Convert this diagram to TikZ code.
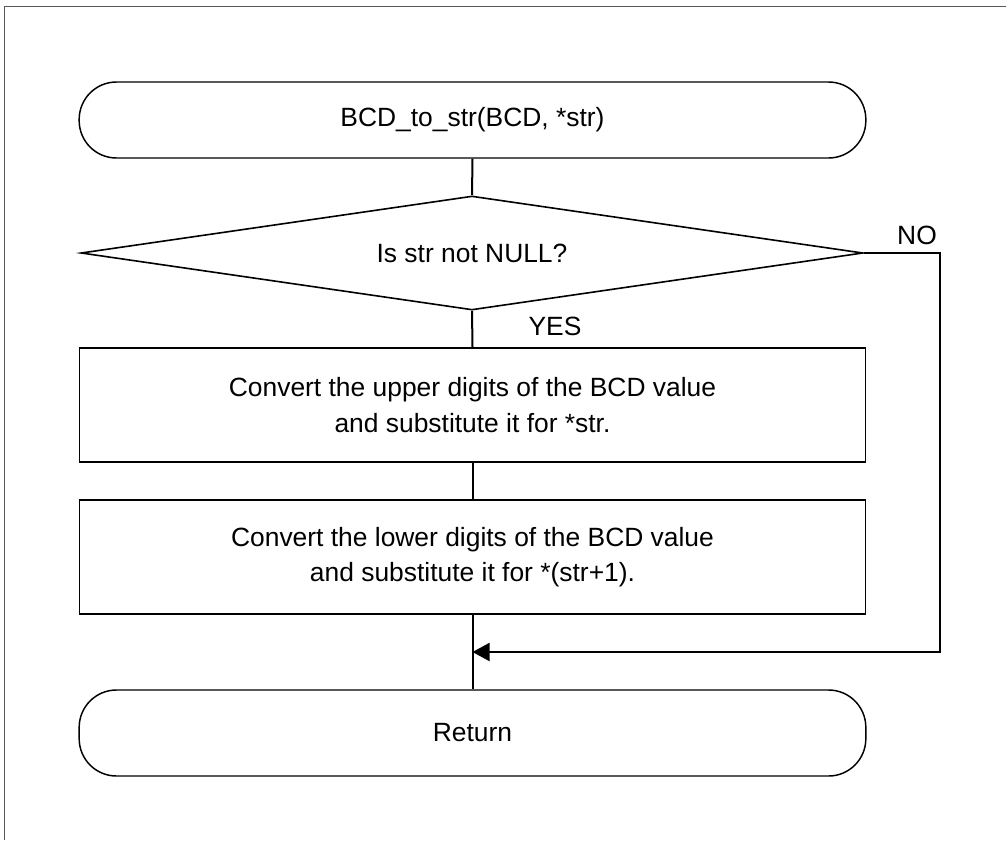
\documentclass[tikz,border=0pt]{standalone}
\usepackage{fontspec}
\setmainfont{Liberation Sans}
\usetikzlibrary{shapes.geometric,arrows.meta}
\begin{document}
\begin{tikzpicture}[x=0.75pt,y=-0.75pt,
  every node/.style={font=\fontsize{19.8}{26.5}\selectfont, inner sep=0pt, align=center},
  term/.style={draw, line width=1.1pt, rounded corners=28pt, minimum width=590pt},
  proc/.style={draw, line width=0.8pt, minimum width=589.5pt, minimum height=85.5pt},
  dec/.style={draw, diamond, line width=1.2pt, aspect=6.86, minimum width=586.5pt, minimum height=85.5pt},
  conn/.style={line width=1.5pt},
  lbl/.style={anchor=center}
]
\useasboundingbox (0,0) rectangle (1006,840);
\draw[gray!70!black, line width=1pt] (1006,6.5) -- (4.5,6.5) -- (4.5,840);
\node[term, minimum height=57pt] (start) at (472.5,120) {BCD\_to\_str(BCD, *str)};
\node[dec] (cond) at (472,253) {Is str not NULL?};
\node[proc] (conv1) at (472.5,405) {Convert the upper digits of the BCD value\\and substitute it for *str.};
\node[proc] (conv2) at (472.5,557) {Convert the lower digits of the BCD value\\and substitute it for *(str+1).};
\node[term, minimum height=64.5pt] (ret) at (472.5,733) {Return};
\node[lbl] (yes) at (555,326) {YES};
\node[lbl] (no) at (917,235) {NO};
\coordinate (noturn) at (940,253);
\coordinate (join) at (472.5,652);
\draw[conn] (start.south) -- (cond.north);
\draw[conn] (cond.south) -- (conv1.north);
\draw[conn] (conv1.south) -- (conv2.north);
\draw[conn] (conv2.south) -- (ret.north);
\draw[conn,-{Triangle[length=12.75pt,width=13.5pt]}] (cond.east) -- (noturn) |- (join);
\end{tikzpicture}
\end{document}
